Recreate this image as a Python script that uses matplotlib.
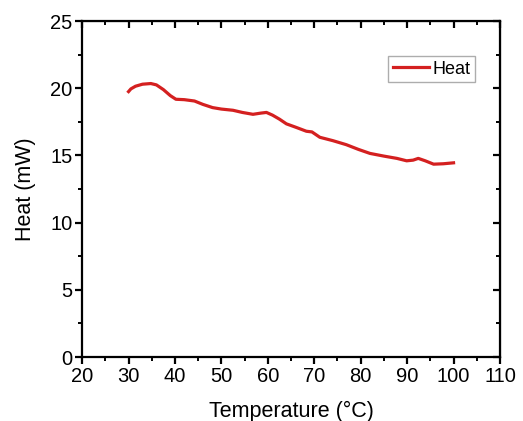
import matplotlib
matplotlib.use('Agg')
from matplotlib import pyplot as plt
from matplotlib.ticker import MultipleLocator

plt.rcParams['font.family'] = ['Liberation Sans', 'DejaVu Sans']

# readings
temperature = [30.0, 30.5, 31.5, 33.0, 34.8, 36.0, 37.5, 39.0, 40.2, 42.0, 44.2,
               46.0, 48.1, 50.0, 52.5, 54.5, 56.8, 58.5, 59.7, 61.0, 62.5, 64.0,
               66.0, 68.3, 69.5, 71.2, 74.0, 76.9, 79.5, 82.0, 85.0, 87.8, 89.9,
               91.3, 92.4, 93.9, 95.7, 97.8, 100.0]
heat = [19.75, 19.95, 20.15, 20.3, 20.35, 20.25, 19.9, 19.45, 19.18, 19.15, 19.05,
        18.8, 18.56, 18.45, 18.36, 18.2, 18.06, 18.15, 18.2, 18.0, 17.7, 17.35,
        17.1, 16.8, 16.75, 16.35, 16.1, 15.8, 15.45, 15.15, 14.95, 14.78, 14.6,
        14.65, 14.78, 14.6, 14.35, 14.38, 14.45]

fig = plt.figure(figsize=(5.23, 4.21), dpi=100)
ax = fig.add_axes([0.157, 0.152, 0.799, 0.798])

ax.plot(temperature, heat, color='#d42020', lw=2.3, label='Heat')

ax.set_xlim(20, 110)
ax.set_ylim(0, 25)
ax.xaxis.set_major_locator(MultipleLocator(10))
ax.xaxis.set_minor_locator(MultipleLocator(5))
ax.yaxis.set_major_locator(MultipleLocator(5))
ax.yaxis.set_minor_locator(MultipleLocator(2.5))

for s in ax.spines.values():
    s.set_linewidth(1.6)

ax.tick_params(which='major', direction='out', length=5, width=1.6, labelsize=14.5, pad=2)
ax.tick_params(which='minor', direction='out', length=3, width=1.4)

# inward ticks on top and right, no labels
top = ax.secondary_xaxis('top')
top.xaxis.set_major_locator(MultipleLocator(10))
top.xaxis.set_minor_locator(MultipleLocator(5))
top.tick_params(which='major', direction='in', length=5, width=1.6, labeltop=False)
top.tick_params(which='minor', direction='in', length=3, width=1.4)
right = ax.secondary_yaxis('right')
right.yaxis.set_major_locator(MultipleLocator(5))
right.yaxis.set_minor_locator(MultipleLocator(2.5))
right.tick_params(which='major', direction='in', length=5, width=1.6, labelright=False)
right.tick_params(which='minor', direction='in', length=3, width=1.4)

ax.set_xlabel('Temperature (°C)', fontsize=15.5, labelpad=11)
ax.set_ylabel('Heat (mW)', fontsize=15.5, labelpad=10)

leg = ax.legend(loc='upper right', bbox_to_anchor=(0.94, 0.896), fontsize=13,
                fancybox=False, edgecolor='#999999', handlelength=2.0,
                handletextpad=0.2, borderpad=0.25, borderaxespad=0)
leg.get_frame().set_linewidth(1.0)

fig.savefig('out.png', dpi=100)
